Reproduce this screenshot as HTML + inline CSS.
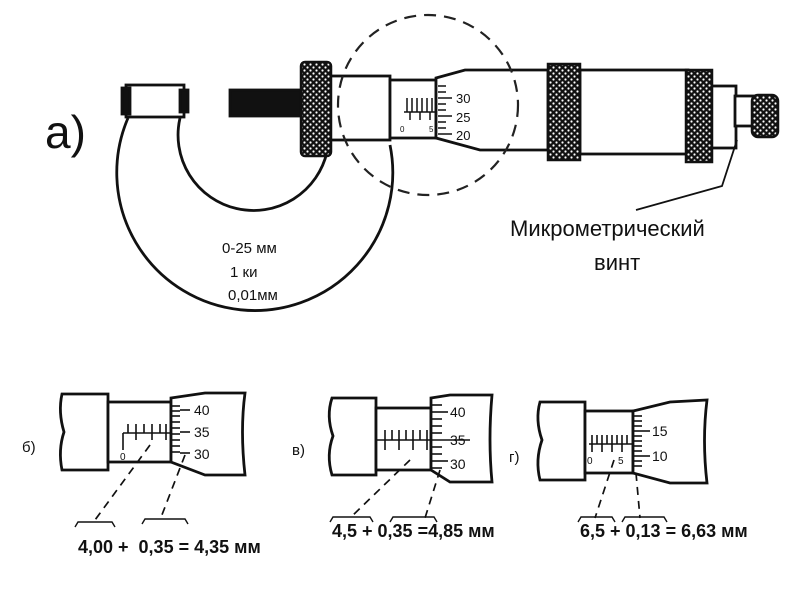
<!DOCTYPE html>
<html><head><meta charset="utf-8"><style>
html,body{margin:0;padding:0;background:#fff;}
svg{display:block;}
text{font-family:"Liberation Sans",sans-serif;fill:#111;}
</style></head><body>
<svg width="800" height="600" viewBox="0 0 800 600" xmlns="http://www.w3.org/2000/svg">
<defs>
<pattern id="kn" width="6" height="6" patternUnits="userSpaceOnUse">
<rect width="6" height="6" fill="#111"/><circle cx="1.5" cy="1.5" r="1.1" fill="#fff"/><circle cx="4.5" cy="4.5" r="1.1" fill="#fff"/>
</pattern>
</defs>
<g stroke="#111" stroke-width="2.8" fill="none">
<path d="M128 118 A138 138 0 1 0 390 145" fill="#fff"/>
<path d="M180 118 A74 74 0 1 0 327 152"/>
<rect x="126" y="85" width="58" height="32" fill="#fff"/>
<rect x="122" y="88" width="8" height="26" fill="#111"/>
<rect x="180" y="90" width="8" height="22" fill="#111"/>
<rect x="230" y="90" width="72" height="26" fill="#111"/>
<rect x="330" y="76" width="60" height="64" fill="#fff"/>
<rect x="390" y="80" width="46" height="58" fill="#fff"/>
<path d="M436 78 L465 70 L548 70 L548 150 L480 150 L436 138 Z" fill="#fff"/>
<rect x="580" y="70" width="108" height="84" fill="#fff"/>
<rect x="710" y="86" width="26" height="62" fill="#fff"/>
<rect x="735" y="96" width="20" height="30" fill="#fff"/>
</g>
<rect x="301" y="62" width="30" height="94" rx="4" fill="url(#kn)" stroke="#111" stroke-width="2.5"/>
<rect x="548" y="64" width="32" height="96" fill="url(#kn)" stroke="#111" stroke-width="2.5"/>
<rect x="686" y="70" width="26" height="92" fill="url(#kn)" stroke="#111" stroke-width="2.5"/>
<rect x="752" y="95" width="26" height="42" rx="6" fill="url(#kn)" stroke="#111" stroke-width="2.5"/>
<g stroke="#111" stroke-width="1.5">
<line x1="404" y1="112" x2="436" y2="112"/>
<line x1="407" y1="98" x2="407" y2="112"/><line x1="412" y1="98" x2="412" y2="112"/><line x1="417" y1="98" x2="417" y2="112"/><line x1="422" y1="98" x2="422" y2="112"/><line x1="427" y1="98" x2="427" y2="112"/><line x1="432" y1="98" x2="432" y2="112"/>
<line x1="410" y1="112" x2="410" y2="120"/><line x1="420" y1="112" x2="420" y2="120"/><line x1="430" y1="112" x2="430" y2="120"/>
<line x1="438" y1="86" x2="446" y2="86"/><line x1="438" y1="92" x2="446" y2="92"/><line x1="438" y1="98" x2="452" y2="98"/><line x1="438" y1="104" x2="446" y2="104"/><line x1="438" y1="110" x2="446" y2="110"/><line x1="438" y1="116" x2="452" y2="116"/><line x1="438" y1="122" x2="446" y2="122"/><line x1="438" y1="128" x2="446" y2="128"/><line x1="438" y1="134" x2="452" y2="134"/>
</g>
<text x="456" y="103" font-size="13">30</text>
<text x="456" y="122" font-size="13">25</text>
<text x="456" y="140" font-size="13">20</text>
<text x="400" y="132" font-size="8">0</text>
<text x="429" y="132" font-size="8">5</text>
<circle cx="428" cy="105" r="90" fill="none" stroke="#222" stroke-width="2.2" stroke-dasharray="12 8"/>
<polyline points="737,140 722,186 636,210" fill="none" stroke="#111" stroke-width="1.8"/>
<text x="45" y="148" font-size="46">а)</text>
<text x="222" y="253" font-size="15">0-25 мм</text>
<text x="230" y="277" font-size="15">1 ки</text>
<text x="228" y="300" font-size="15">0,01мм</text>
<text x="510" y="236" font-size="22">Микрометрический</text>
<text x="594" y="270" font-size="22">винт</text>

<g stroke="#111" stroke-width="2.8" fill="#fff">
<path d="M62 394 L108 394 L108 470 L62 470 Q58 450 64 432 Q58 412 62 394Z"/>
<rect x="108" y="402" width="63" height="60"/>
<path d="M171 398 L205 393 L245 393 Q240 430 245 475 L205 475 L171 462 Z"/>
<path d="M332 398 L376 398 L376 475 L332 475 Q326 455 333 436 Q326 416 332 398Z"/>
<rect x="376" y="408" width="55" height="62"/>
<path d="M431 398 L450 395 L492 395 Q488 440 492 482 L450 482 L431 470 Z"/>
<path d="M540 402 L585 402 L585 480 L540 480 Q535 460 542 440 Q535 420 540 402Z"/>
<rect x="585" y="411" width="48" height="62"/>
<path d="M633 411 L670 402 L707 400 Q702 440 707 483 L670 483 L633 473 Z"/>
</g>
<g stroke="#111" stroke-width="1.6">
<line x1="123" y1="433" x2="171" y2="433"/><line x1="123" y1="433" x2="123" y2="450"/>
<line x1="128" y1="424" x2="128" y2="433"/><line x1="136" y1="424" x2="136" y2="440"/><line x1="144" y1="424" x2="144" y2="433"/><line x1="152" y1="424" x2="152" y2="440"/><line x1="160" y1="424" x2="160" y2="433"/><line x1="166" y1="424" x2="166" y2="440"/>
<line x1="172" y1="406" x2="180" y2="406"/><line x1="172" y1="411" x2="180" y2="411"/><line x1="172" y1="416" x2="180" y2="416"/><line x1="172" y1="422" x2="180" y2="422"/><line x1="172" y1="428" x2="180" y2="428"/><line x1="172" y1="434" x2="180" y2="434"/><line x1="172" y1="440" x2="180" y2="440"/><line x1="172" y1="446" x2="180" y2="446"/><line x1="172" y1="452" x2="180" y2="452"/><line x1="180" y1="410" x2="190" y2="410"/><line x1="180" y1="432" x2="190" y2="432"/><line x1="180" y1="453" x2="190" y2="453"/>
<line x1="376" y1="440" x2="470" y2="440"/>
<line x1="385" y1="430" x2="385" y2="450"/><line x1="392" y1="430" x2="392" y2="440"/><line x1="399" y1="430" x2="399" y2="450"/><line x1="406" y1="430" x2="406" y2="440"/><line x1="413" y1="430" x2="413" y2="450"/><line x1="420" y1="430" x2="420" y2="440"/><line x1="427" y1="430" x2="427" y2="450"/>
<line x1="432" y1="405" x2="442" y2="405"/><line x1="432" y1="412" x2="448" y2="412"/><line x1="432" y1="419" x2="442" y2="419"/><line x1="432" y1="426" x2="442" y2="426"/><line x1="432" y1="433" x2="442" y2="433"/><line x1="432" y1="447" x2="442" y2="447"/><line x1="432" y1="454" x2="442" y2="454"/><line x1="432" y1="461" x2="448" y2="461"/><line x1="432" y1="468" x2="442" y2="468"/>
<line x1="589" y1="444" x2="633" y2="444"/>
<line x1="592" y1="435" x2="592" y2="452"/><line x1="597" y1="435" x2="597" y2="444"/><line x1="602" y1="435" x2="602" y2="452"/><line x1="607" y1="435" x2="607" y2="444"/><line x1="612" y1="435" x2="612" y2="452"/><line x1="617" y1="435" x2="617" y2="444"/><line x1="622" y1="435" x2="622" y2="452"/><line x1="627" y1="435" x2="627" y2="444"/>
<line x1="634" y1="416" x2="642" y2="416"/><line x1="634" y1="421" x2="642" y2="421"/><line x1="634" y1="426" x2="642" y2="426"/><line x1="634" y1="431" x2="650" y2="431"/><line x1="634" y1="436" x2="642" y2="436"/><line x1="634" y1="441" x2="642" y2="441"/><line x1="634" y1="446" x2="642" y2="446"/><line x1="634" y1="451" x2="642" y2="451"/><line x1="634" y1="456" x2="650" y2="456"/><line x1="634" y1="461" x2="642" y2="461"/><line x1="634" y1="466" x2="642" y2="466"/>
</g>
<g font-size="14">
<text x="194" y="415">40</text><text x="194" y="437">35</text><text x="194" y="459">30</text>
<text x="450" y="417">40</text><text x="450" y="445">35</text><text x="450" y="469">30</text>
<text x="652" y="436">15</text><text x="652" y="461">10</text>
</g>
<g font-size="10"><text x="120" y="460">0</text><text x="587" y="464">0</text><text x="618" y="464">5</text></g>
<g font-size="15"><text x="22" y="452">б)</text><text x="292" y="455">в)</text><text x="509" y="462">г)</text></g>
<g stroke="#111" stroke-width="1.7" stroke-dasharray="8 6" fill="none">
<line x1="150" y1="445" x2="95" y2="520"/><line x1="185" y1="455" x2="160" y2="520"/>
<line x1="410" y1="460" x2="350" y2="518"/><line x1="440" y1="470" x2="425" y2="518"/>
<line x1="614" y1="460" x2="595" y2="518"/><line x1="636" y1="473" x2="640" y2="518"/>
</g>
<g stroke="#111" stroke-width="1.4" fill="none">
<path d="M75 527 L78 522 L112 522 L115 527"/><path d="M142 524 L145 519 L185 519 L188 524"/>
<path d="M330 522 L333 517 L370 517 L373 522"/><path d="M390 522 L393 517 L434 517 L437 522"/>
<path d="M578 522 L581 517 L612 517 L615 522"/><path d="M622 522 L625 517 L664 517 L667 522"/>
</g>
<g font-size="18" font-weight="600">
<text x="78" y="553">4,00 +&#160;&#160;0,35 = 4,35 мм</text>
<text x="332" y="537">4,5 + 0,35 =4,85 мм</text>
<text x="580" y="537">6,5 + 0,13 = 6,63 мм</text>
</g>
</svg>
</body></html>
